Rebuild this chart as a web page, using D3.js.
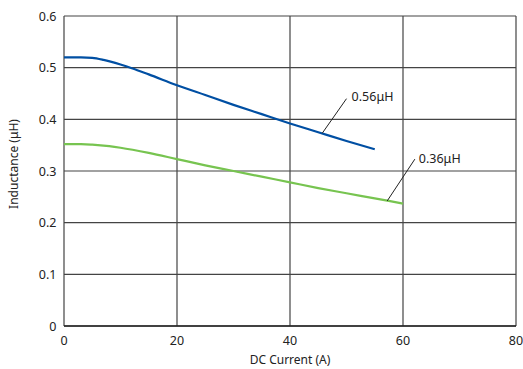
<!DOCTYPE html>
<html><head><meta charset="utf-8">
<script src="https://cdn.jsdelivr.net/npm/d3@7"></script>
<style>body{margin:0;background:#fff}svg text{font-family:"Noto Sans",sans-serif;fill:#222}</style>
</head><body><svg id="c" width="523" height="369"></svg>
<script>
const xTicks=[0,20,40,60,80];
const yTicks=[0,0.1,0.2,0.3,0.4,0.5,0.6];
const blueX=[0,3,5,7,10,12,15,20,25,30,35,40,45,50,55];
const blueY=[0.52,0.52,0.519,0.515,0.506,0.499,0.487,0.466,0.447,0.428,0.41,0.392,0.375,0.358,0.342];
const greenX=[0,3,5,8,10,15,20,25,30,35,40,45,50,55,60];
const greenY=[0.352,0.352,0.351,0.348,0.345,0.335,0.323,0.311,0.3,0.289,0.278,0.267,0.257,0.247,0.237];
const labels=["0.56μH","0.36μH"];

const svg=d3.select("#c");
const x=d3.scaleLinear().domain([0,80]).range([64,516]);
const y=d3.scaleLinear().domain([0,0.6]).range([326,16]);

svg.append("g").selectAll("line").data(xTicks).join("line")
 .attr("x1",d=>x(d)).attr("x2",d=>x(d)).attr("y1",y(0)).attr("y2",y(0.6))
 .attr("stroke","#444").attr("stroke-width",1.2);
svg.append("g").selectAll("line").data(yTicks).join("line")
 .attr("x1",x(0)).attr("x2",x(80)).attr("y1",d=>y(d)).attr("y2",d=>y(d))
 .attr("stroke","#444").attr("stroke-width",1.2);
svg.append("line").attr("x1",x(0)).attr("x2",x(80)).attr("y1",y(0)).attr("y2",y(0)).attr("stroke","#222").attr("stroke-width",1.5);

svg.append("g").selectAll("text").data(xTicks).join("text")
 .attr("x",d=>x(d)).attr("y",345).attr("text-anchor","middle").attr("font-size",12.5).text(d=>d);
svg.append("g").selectAll("text").data(yTicks).join("text")
 .attr("x",56.5).attr("y",d=>y(d)+4.5).attr("text-anchor","end").attr("font-size",12.5).text(d=>d===0?"0":d3.format(".1f")(d));

svg.append("text").attr("x",x(40)).attr("y",364).attr("text-anchor","middle").attr("font-size",12).text("DC Current (A)");
svg.append("text").attr("transform",`translate(18,${y(0.3)-7}) rotate(-90)`).attr("text-anchor","middle").attr("font-size",12).text("Inductance (μH)");

const line=d3.line().x(d=>x(d[0])).y(d=>y(d[1])).curve(d3.curveMonotoneX);
svg.append("path").datum(blueX.map((v,i)=>[v,blueY[i]])).attr("d",line).attr("fill","none").attr("stroke","#004fa3").attr("stroke-width",2.2);
svg.append("path").datum(greenX.map((v,i)=>[v,greenY[i]])).attr("d",line).attr("fill","none").attr("stroke","#77c450").attr("stroke-width",2.2);

const leaders=[{x1:45.7,y1:0.373,x2:50,y2:0.44,tx:50.9,ty:0.435,t:labels[0]},
               {x1:57.2,y1:0.242,x2:62.1,y2:0.323,tx:62.8,ty:0.315,t:labels[1]}];
leaders.forEach(l=>{
 svg.append("line").attr("x1",x(l.x1)).attr("y1",y(l.y1)).attr("x2",x(l.x2)).attr("y2",y(l.y2)).attr("stroke","#222").attr("stroke-width",1);
 svg.append("text").attr("x",x(l.tx)).attr("y",y(l.ty)).attr("font-size",12.5).text(l.t);
});
</script></body></html>
